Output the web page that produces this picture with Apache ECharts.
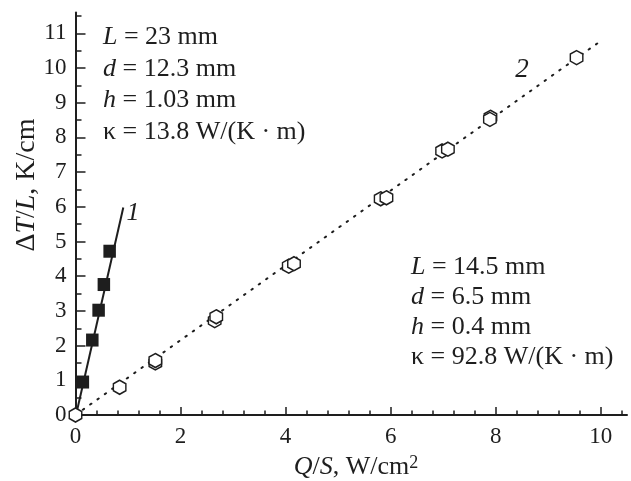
<!DOCTYPE html>
<html><head><meta charset="utf-8">
<script src="https://cdn.jsdelivr.net/npm/echarts@6/dist/echarts.min.js"></script>
<style>html,body{margin:0;padding:0;background:#fff}#c{width:631px;height:481px}</style>
</head><body><div id="c"></div>
<script>
// Series 1: filled squares and its fitted line
const series1Points = [[0.14,0.95],[0.32,2.16],[0.44,3.02],[0.54,3.76],[0.65,4.72]];
const series1Line = [[0.01,0],[0.91,5.98]];
// Series 2: open hexagons and its dotted fitted line
const series2Points = [[0.84,0.80],[1.52,1.50],[1.52,1.57],[2.65,2.72],[2.68,2.83],[4.06,4.29],[4.16,4.36],[5.81,6.23],[5.92,6.26],[6.98,7.61],[7.09,7.66],[7.90,8.58],[7.89,8.52],[9.54,10.30],[0,0]];
const series2Line = [[0,0],[10,10.78]];
// Tick labels / tick positions
const xMajorTicks = [0,2,4,6,8,10];
const xMinorTicks = [0.4,0.8,1.2,1.6,2.4,2.8,3.2,3.6,4.4,4.8,5.2,5.6,6.4,6.8,7.2,7.6,8.4,8.8,9.2,9.6,10.4];
const yMajorTicks = [0,1,2,3,4,5,6,7,8,9,10,11];
const yMinorTicks = [0.5,1.5,2.5,3.5,4.5,5.5,6.5,7.5,8.5,9.5,10.5,11.5];
// Annotation texts
const leftNotes = ['{i|L} = 23 mm','{i|d} = 12.3 mm','{i|h} = 1.03 mm','κ = 13.8 W/(K · m)'];
const rightNotes = ['{i|L} = 14.5 mm','{i|d} = 6.5 mm','{i|h} = 0.4 mm','κ = 92.8 W/(K · m)'];

const FONT = '"Liberation Serif", "Times New Roman", serif';
const INK = '#1e1e1e';
const hexPath = 'path://M0,-10L8.66,-5L8.66,5L0,10L-8.66,5L-8.66,-5Z';

const chart = echarts.init(document.getElementById('c'), null, {renderer:'canvas'});
const X_MIN = 0, X_MAX = 10.5, Y_MIN = 0, Y_MAX = 11.6;

function noteText(lines, x, y, lh) {
  return {
    type: 'text', x: x, y: y, z: 100,
    style: {
      text: lines.join('\n'), fill: INK, fontFamily: FONT, fontSize: 26, lineHeight: lh,
      textAlign: 'left', textVerticalAlign: 'top',
      rich: { i: { fontStyle: 'italic', fontFamily: FONT, fontSize: 26, fill: INK, lineHeight: lh } }
    }
  };
}

chart.setOption({
  animation: false,
  backgroundColor: '#fff',
  grid: { left: 75.5, right: 4, top: 12.5, bottom: 66, containLabel: false },
  xAxis: [
    { type: 'value', min: X_MIN, max: X_MAX, position: 'bottom',
      axisLine: { show: true, onZero: false, lineStyle: { color: INK, width: 2 } },
      axisTick: { show: true, inside: true, length: 8, customValues: xMajorTicks, lineStyle: { color: INK, width: 1.5 } },
      axisLabel: { customValues: xMajorTicks, fontFamily: FONT, fontSize: 23, color: INK, margin: 10 },
      splitLine: { show: false } },
    { type: 'value', min: X_MIN, max: X_MAX, position: 'bottom', offset: 0,
      axisLine: { show: false, onZero: false },
      axisTick: { show: true, inside: true, length: 4.5, customValues: xMinorTicks, lineStyle: { color: INK, width: 1.5 } },
      axisLabel: { show: false },
      splitLine: { show: false } }
  ],
  yAxis: [
    { type: 'value', min: Y_MIN, max: Y_MAX, position: 'left',
      axisLine: { show: true, onZero: false, lineStyle: { color: INK, width: 2 } },
      axisTick: { show: true, inside: true, length: 10, customValues: yMajorTicks, lineStyle: { color: INK, width: 1.5 } },
      axisLabel: { customValues: yMajorTicks, fontFamily: FONT, fontSize: 23, color: INK, margin: 9 },
      splitLine: { show: false } },
    { type: 'value', min: Y_MIN, max: Y_MAX, position: 'left', offset: 0,
      axisLine: { show: false, onZero: false },
      axisTick: { show: true, inside: true, length: 6, customValues: yMinorTicks, lineStyle: { color: INK, width: 1.5 } },
      axisLabel: { show: false },
      splitLine: { show: false } }
  ],
  series: [
    { type: 'line', data: series2Line, showSymbol: false, symbol: 'none', z: 2,
      lineStyle: { color: INK, width: 2, type: [1.5, 7.5], cap: 'round' } },
    { type: 'line', data: series1Line, showSymbol: false, symbol: 'none', z: 2,
      lineStyle: { color: INK, width: 2 } },
    { type: 'scatter', data: series1Points, symbol: 'rect', symbolSize: [12.5, 13], z: 5,
      itemStyle: { color: INK, opacity: 1 } },
    { type: 'scatter', data: series2Points, symbol: hexPath, symbolSize: [12.5, 14], z: 5,
      itemStyle: { color: '#fff', borderColor: INK, borderWidth: 1.5, opacity: 1 } }
  ],
  graphic: [
    noteText(leftNotes, 103, 21.5, 31.5),
    noteText(rightNotes, 411, 252.5, 29.8),
    { type: 'text', x: 133, y: 213, z: 100, style: { text: '1', fontFamily: FONT, fontStyle: 'italic', fontSize: 26, fill: INK, textAlign: 'center', textVerticalAlign: 'middle' } },
    { type: 'text', x: 522, y: 70, z: 100, style: { text: '2', fontFamily: FONT, fontStyle: 'italic', fontSize: 27, fill: INK, textAlign: 'center', textVerticalAlign: 'middle' } },
    { type: 'text', x: 27, y: 185, rotation: Math.PI / 2, z: 100,
      style: { text: 'Δ{i|T}/{i|L}, K/cm', fontFamily: FONT, fontSize: 28, fill: INK, textAlign: 'center', textVerticalAlign: 'middle',
        rich: { i: { fontStyle: 'italic', fontFamily: FONT, fontSize: 28, fill: INK } } } },
    { type: 'text', x: 356, y: 467, z: 100,
      style: { text: '{i|Q}/{i|S}, W/cm{s|2}', fontFamily: FONT, fontSize: 26, fill: INK, textAlign: 'center', textVerticalAlign: 'middle',
        rich: { i: { fontStyle: 'italic', fontFamily: FONT, fontSize: 26, fill: INK },
                s: { fontFamily: FONT, fontSize: 18, fill: INK, verticalAlign: 'top' } } } }
  ]
});
</script>
</body></html>
